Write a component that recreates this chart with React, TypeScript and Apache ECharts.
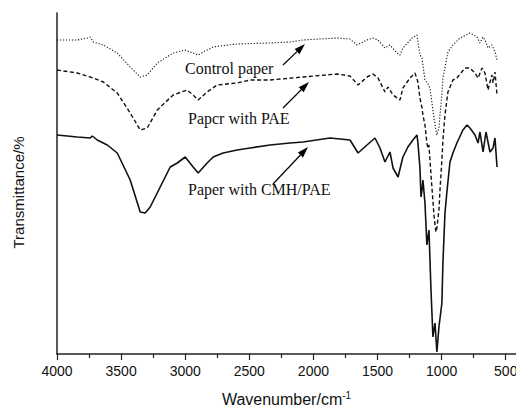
import React, { useEffect, useRef } from "react";
import * as echarts from "echarts";

// Wavenumber (cm-1) and transmittance (arbitrary units)
const controlWn = [4000, 3842, 3756, 3741, 3717, 3639, 3530, 3429, 3351, 3296, 3218, 3094, 3000, 2961, 2899, 2860, 2782, 2595, 2338, 2182, 2081, 1816, 1715, 1660, 1582, 1535, 1496, 1442, 1403, 1348, 1325, 1302, 1231, 1192, 1185, 1169, 1153, 1130, 1107, 1091, 1076, 1060, 1045, 1037, 1021, 1013, 998, 990, 951, 912, 857, 779, 724, 701, 677, 662, 638, 607, 584, 568];
const controlT = [314, 314, 316, 317, 312, 309, 301, 287, 277, 279, 291, 301, 304, 302, 299, 302, 307, 310, 311, 312, 314, 316, 315, 309, 314, 316, 314, 306, 309, 301, 299, 306, 316, 319, 312, 299, 296, 274, 270, 266, 252, 236, 224, 219, 226, 239, 259, 276, 302, 309, 316, 321, 317, 311, 317, 314, 306, 309, 302, 294];

const paeWn = [4000, 3842, 3717, 3639, 3530, 3429, 3351, 3296, 3218, 3094, 2985, 2938, 2899, 2829, 2751, 2595, 2494, 2338, 2081, 1816, 1715, 1652, 1582, 1535, 1496, 1442, 1418, 1379, 1325, 1302, 1247, 1208, 1185, 1169, 1153, 1146, 1130, 1115, 1107, 1099, 1091, 1076, 1060, 1045, 1037, 1021, 1013, 998, 990, 974, 951, 912, 881, 818, 779, 740, 716, 685, 662, 638, 623, 607, 599, 584, 568];
const paeT = [284, 281, 276, 272, 261, 241, 224, 226, 244, 259, 264, 259, 254, 262, 269, 271, 274, 274, 277, 280, 278, 269, 277, 280, 276, 262, 267, 259, 254, 266, 276, 281, 272, 256, 246, 239, 229, 211, 206, 209, 194, 167, 139, 122, 126, 144, 164, 194, 214, 239, 262, 274, 276, 286, 286, 281, 276, 286, 281, 264, 272, 279, 271, 282, 259];

const cmhWn = [4000, 3842, 3741, 3725, 3686, 3608, 3530, 3429, 3351, 3312, 3273, 3195, 3117, 3062, 3000, 2938, 2899, 2829, 2782, 2704, 2595, 2494, 2338, 2182, 2081, 1870, 1715, 1676, 1652, 1582, 1520, 1481, 1442, 1403, 1379, 1340, 1302, 1263, 1224, 1192, 1185, 1169, 1161, 1153, 1146, 1130, 1115, 1099, 1083, 1068, 1052, 1037, 1021, 998, 990, 974, 959, 935, 912, 881, 834, 802, 779, 740, 716, 701, 677, 654, 623, 599, 584, 568];
const cmhT = [219, 217, 216, 218, 214, 209, 201, 174, 142, 141, 147, 167, 187, 191, 197, 187, 181, 191, 197, 201, 204, 206, 209, 211, 212, 216, 214, 206, 201, 209, 216, 206, 192, 202, 186, 177, 197, 207, 214, 219, 211, 186, 157, 164, 174, 151, 109, 124, 64, 17, 31, 2, 27, 51, 91, 141, 162, 192, 201, 211, 224, 229, 226, 219, 211, 222, 202, 222, 202, 206, 216, 187];

const xLabels = [4000, 3500, 3000, 2500, 2000, 1500, 1000, 500];
const xMinorTicks = [3750, 3250, 2750, 2250, 1750, 1250, 750];
const seriesNames = ["Control paper", "Papcr with PAE", "Paper with CMH/PAE"];

const zip = (a: number[], b: number[]) => a.map((v, i) => [v, b[i]]);

const serif = "'Liberation Serif', 'Times New Roman', serif";
const sans = "'Liberation Sans', Arial, sans-serif";

function arrow(x1: number, y1: number, x2: number, y2: number) {
  const dx = x2 - x1, dy = y2 - y1;
  const len = Math.sqrt(dx * dx + dy * dy);
  const ux = dx / len, uy = dy / len;
  const px = -uy, py = ux;
  const hl = 11, hw = 3.5;
  const bx = x2 - ux * hl, by = y2 - uy * hl;
  return [
    { type: "line", shape: { x1, y1, x2: bx, y2: by }, style: { stroke: "#000", lineWidth: 1.2 } },
    {
      type: "polygon",
      shape: { points: [[x2, y2], [bx + px * hw, by + py * hw], [bx - px * hw, by - py * hw]] },
      style: { fill: "#000" },
    },
  ];
}

export default function App() {
  const ref = useRef<HTMLDivElement>(null);
  useEffect(() => {
    if (!ref.current) return;
    const chart = echarts.init(ref.current, null, { renderer: "svg" });
    const axisLineStyle = { color: "#222", width: 1.5 };
    chart.setOption({
      animation: false,
      grid: { left: 57, right: 0, top: 13, bottom: 55, containLabel: false, outerBoundsMode: "none" },
      xAxis: [
        {
          type: "value",
          inverse: true,
          min: 420,
          max: 4000,
          splitLine: { show: false },
          axisLine: { lineStyle: axisLineStyle },
          axisTick: { show: true, length: 6, customValues: xLabels, lineStyle: { color: "#222", width: 1.2 } },
          axisLabel: {
            customValues: xLabels,
            margin: 10,
            fontSize: 14,
            color: "#111",
            fontFamily: sans,
            hideOverlap: false,
            formatter: (v: number) => String(v),
          },
          name: "Wavenumber/cm{sup|-1}",
          nameLocation: "middle",
          nameGap: 36,
          nameTextStyle: {
            fontSize: 16,
            color: "#111",
            fontFamily: sans,
            rich: { sup: { fontSize: 10, fontFamily: sans, color: "#111", padding: [0, 0, 9, 0] } },
          },
        },
        {
          type: "value",
          inverse: true,
          min: 420,
          max: 4000,
          position: "bottom",
          splitLine: { show: false },
          axisLine: { show: false },
          axisTick: { show: true, length: 4, customValues: xMinorTicks, lineStyle: { color: "#222", width: 1.2 } },
          axisLabel: { show: false },
        },
      ],
      yAxis: {
        type: "value",
        min: 0,
        max: 341,
        splitLine: { show: false },
        axisLine: { show: true, lineStyle: axisLineStyle },
        axisTick: { show: false },
        axisLabel: { show: false },
        name: "Transmittance/%",
        nameLocation: "middle",
        nameGap: 31,
        nameTextStyle: { fontSize: 15, color: "#111", fontFamily: sans, padding: [0, 0, 0, -18] },
      },
      series: [
        {
          name: seriesNames[0],
          type: "line",
          data: zip(controlWn, controlT),
          showSymbol: false,
          lineStyle: { color: "#111", width: 1.1, type: [1.2, 1.8] },
        },
        {
          name: seriesNames[1],
          type: "line",
          data: zip(paeWn, paeT),
          showSymbol: false,
          lineStyle: { color: "#111", width: 1.4, type: [4, 2.5] },
        },
        {
          name: seriesNames[2],
          type: "line",
          data: zip(cmhWn, cmhT),
          showSymbol: false,
          lineStyle: { color: "#111", width: 1.6 },
        },
      ],
      graphic: [
        { type: "text", x: 185, y: 68, style: { text: seriesNames[0], font: `16px ${serif}`, fill: "#111", verticalAlign: "middle" } },
        { type: "text", x: 188, y: 118, style: { text: seriesNames[1], font: `16px ${serif}`, fill: "#111", verticalAlign: "middle" } },
        { type: "text", x: 188, y: 189, style: { text: seriesNames[2], font: `16px ${serif}`, fill: "#111", verticalAlign: "middle" } },
        ...arrow(283, 65, 305, 44),
        ...arrow(283, 108, 309, 82),
        ...arrow(273, 184, 308, 147),
      ],
    });
    return () => chart.dispose();
  }, []);
  return <div ref={ref} style={{ width: 516, height: 409, position: "absolute", left: 0, top: 0 }} />;
}
